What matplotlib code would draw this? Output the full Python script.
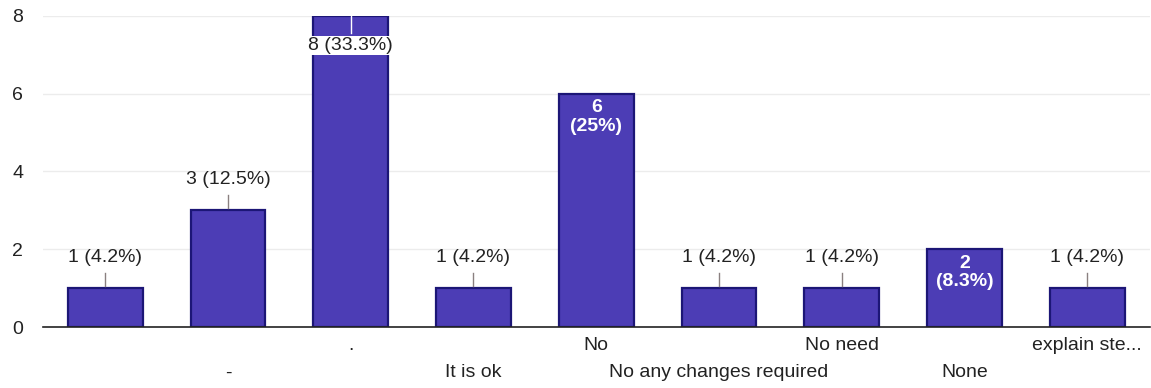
import matplotlib.pyplot as plt
import numpy as np

plt.rcParams['font.family'] = ['Liberation Sans', 'DejaVu Sans']

categories = ["", "-", ".", "It is ok", "No", "No any changes required",
              "No need", "None", "explain ste..."]
counts = [1, 3, 8, 1, 6, 1, 1, 2, 1]
total = 24

fig = plt.figure(figsize=(11.51, 3.88), dpi=100)
ax = fig.add_axes([0.037, 0.157, 0.962, 0.802])

x = np.arange(len(categories))
ax.bar(x, counts, width=0.61, color='#4c3db5', edgecolor='#1c1676',
       linewidth=1.6, zorder=3)

ax.set_xlim(-0.51, 8.51)
ax.set_ylim(0, 8)
ax.set_yticks([0, 2, 4, 6, 8])
ax.yaxis.grid(True, color='#ececec', linewidth=1, zorder=0)
ax.tick_params(axis='y', length=0, labelsize=14, colors='#222222', pad=14)
ax.set_xticks([])
for s in ['top', 'right', 'left']:
    ax.spines[s].set_visible(False)
ax.spines['bottom'].set_color('#222222')
ax.spines['bottom'].set_linewidth(1.2)
ax.spines['bottom'].set_zorder(4)

# staggered category labels
for i, lab in enumerate(categories):
    off = -13 if i % 2 == 0 else -33
    ax.annotate(lab, xy=(i, 0), xycoords=('data', 'axes fraction'),
                xytext=(0, off), textcoords='offset points',
                ha='center', va='center', fontsize=14, color='#222222')

inside = {4, 7}
for i, c in enumerate(counts):
    pct = f"{round(c / total * 100, 1):g}%"
    if c == max(counts):
        ax.plot([i, i], [c, c - 0.45], color='white', lw=1, zorder=4)
        ax.annotate(f"{c} ({pct})", xy=(i, c), xytext=(0, -21),
                    textcoords='offset points', ha='center', va='center',
                    fontsize=14, color='#222222', zorder=5,
                    bbox=dict(boxstyle='square,pad=0.05', fc='white', ec='none'))
    elif i in inside:
        ax.annotate(f"{c}\n({pct})", xy=(i, c), xytext=(0, -4),
                    textcoords='offset points', ha='center', va='top',
                    fontsize=14, color='white', fontweight='bold',
                    linespacing=1.1, zorder=5)
    else:
        ax.plot([i, i], [c + 0.05, c + 0.4], color='#8a8080', lw=1, zorder=4)
        ax.annotate(f"{c} ({pct})", xy=(i, c), xytext=(0, 22),
                    textcoords='offset points', ha='center', va='center',
                    fontsize=14, color='#222222', zorder=5)

fig.savefig('out.png', dpi=100, facecolor='white')
